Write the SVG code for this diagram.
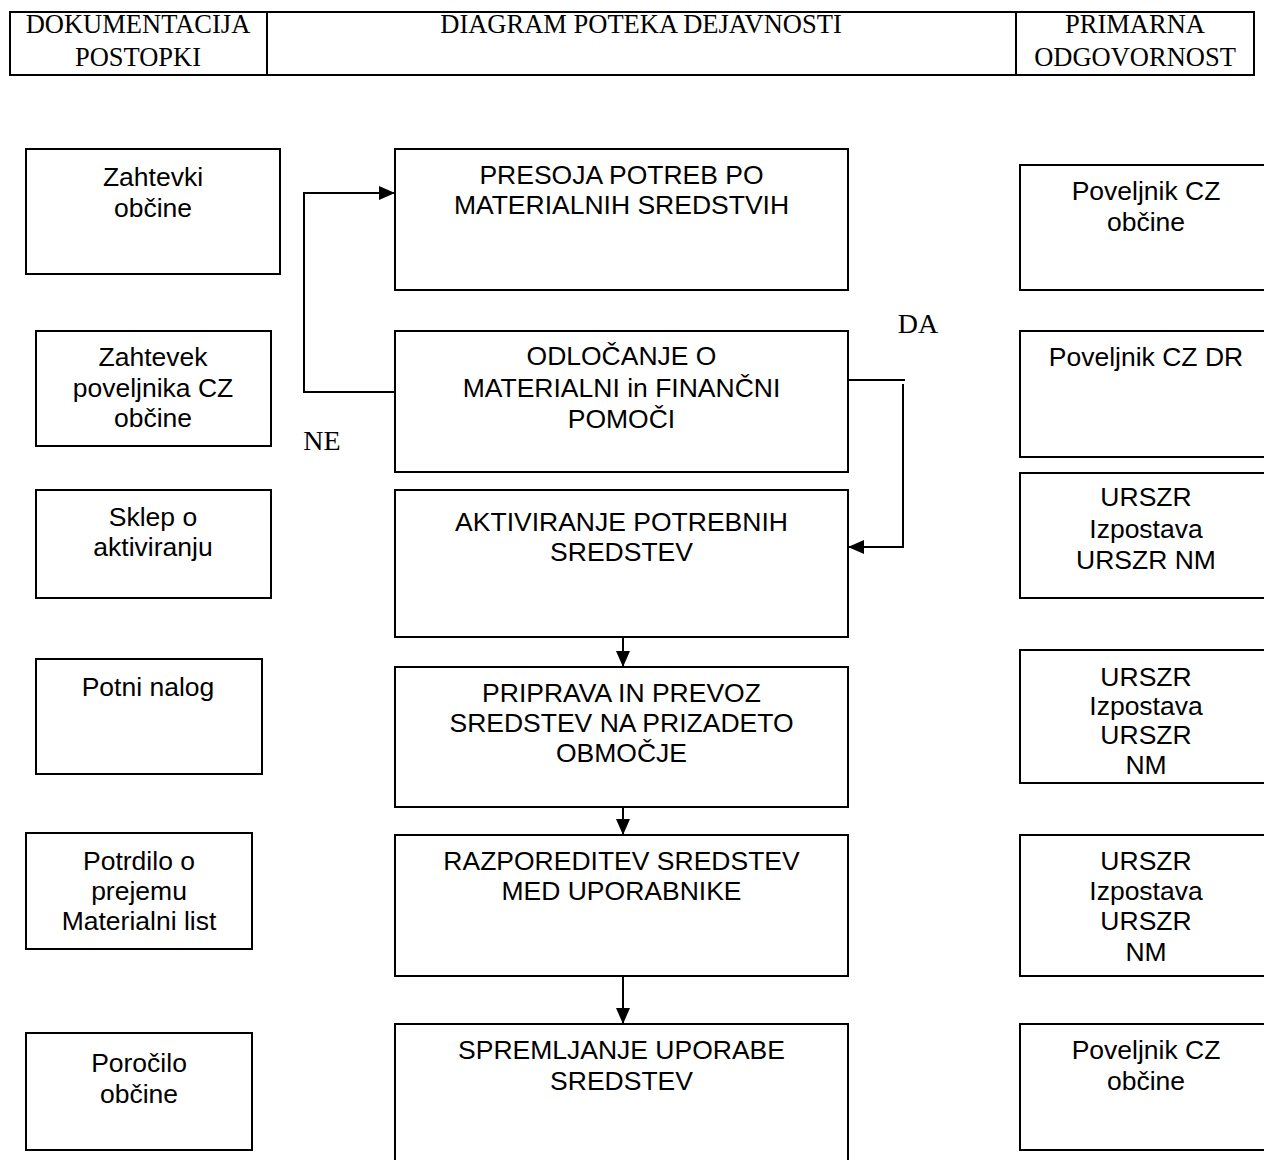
<svg xmlns="http://www.w3.org/2000/svg" width="1264" height="1160" viewBox="0 0 1264 1160">
<style>
.b{fill:#fff;stroke:#000;stroke-width:2}
.t{font-family:"Liberation Sans",Arial,sans-serif;font-size:26.5px;fill:#000;text-anchor:middle}
.h{font-family:"Liberation Serif","Times New Roman",serif;font-size:26.5px;fill:#000;text-anchor:middle}
.c{fill:none;stroke:#000;stroke-width:2}
</style>
<defs>
<marker id="ar" viewBox="0 0 16 14" refX="16" refY="7" markerWidth="16" markerHeight="14" markerUnits="userSpaceOnUse" orient="auto">
<path d="M0,0 L16,7 L0,14 Z" fill="#000"/>
</marker>
</defs>
<rect width="1264" height="1160" fill="#fff"/>
<g id="header">
<rect x="10" y="12" width="1244" height="63" class="b"/>
<line x1="267" y1="12" x2="267" y2="75" class="c"/>
<line x1="1016" y1="12" x2="1016" y2="75" class="c"/>
<text class="h" x="138" y="33">DOKUMENTACIJA</text>
<text class="h" x="138" y="66">POSTOPKI</text>
<text class="h" x="641" y="33">DIAGRAM POTEKA DEJAVNOSTI</text>
<text class="h" x="1135" y="33">PRIMARNA</text>
<text class="h" x="1135" y="66">ODGOVORNOST</text>
</g>
<g id="doc1"><rect x="26" y="149" width="254" height="125" class="b"/><text class="t" x="153" y="186">Zahtevki</text><text class="t" x="153" y="217">občine</text></g>
<g id="doc2"><rect x="36" y="331" width="235" height="115" class="b"/><text class="t" x="153" y="366">Zahtevek</text><text class="t" x="153" y="397">poveljnika CZ</text><text class="t" x="153" y="427">občine</text></g>
<g id="doc3"><rect x="36" y="490" width="235" height="108" class="b"/><text class="t" x="153" y="526">Sklep o</text><text class="t" x="153" y="556">aktiviranju</text></g>
<g id="doc4"><rect x="36" y="659" width="226" height="115" class="b"/><text class="t" x="148" y="696">Potni nalog</text></g>
<g id="doc5"><rect x="26" y="833" width="226" height="116" class="b"/><text class="t" x="139" y="870">Potrdilo o</text><text class="t" x="139" y="900">prejemu</text><text class="t" x="139" y="930">Materialni list</text></g>
<g id="doc6"><rect x="26" y="1033" width="226" height="117" class="b"/><text class="t" x="139" y="1072">Poročilo</text><text class="t" x="139" y="1103">občine</text></g>

<g id="step1"><rect x="395" y="149" width="453" height="141" class="b"/><text class="t" x="621.5" y="184">PRESOJA POTREB PO</text><text class="t" x="621.5" y="214">MATERIALNIH SREDSTVIH</text></g>
<g id="step2"><rect x="395" y="331" width="453" height="141" class="b"/><text class="t" x="621.5" y="365">ODLOČANJE O</text><text class="t" x="621.5" y="397">MATERIALNI in FINANČNI</text><text class="t" x="621.5" y="428">POMOČI</text></g>
<g id="step3"><rect x="395" y="490" width="453" height="147" class="b"/><text class="t" x="621.5" y="531">AKTIVIRANJE POTREBNIH</text><text class="t" x="621.5" y="561">SREDSTEV</text></g>
<g id="step4"><rect x="395" y="667" width="453" height="140" class="b"/><text class="t" x="621.5" y="702">PRIPRAVA IN PREVOZ</text><text class="t" x="621.5" y="732">SREDSTEV NA PRIZADETO</text><text class="t" x="621.5" y="762">OBMOČJE</text></g>
<g id="step5"><rect x="395" y="835" width="453" height="141" class="b"/><text class="t" x="621.5" y="870">RAZPOREDITEV SREDSTEV</text><text class="t" x="621.5" y="900">MED UPORABNIKE</text></g>
<g id="step6"><rect x="395" y="1024" width="453" height="150" class="b"/><text class="t" x="621.5" y="1059">SPREMLJANJE UPORABE</text><text class="t" x="621.5" y="1090">SREDSTEV</text></g>

<g id="resp1"><rect x="1020" y="165" width="260" height="125" class="b"/><text class="t" x="1146" y="200">Poveljnik CZ</text><text class="t" x="1146" y="231">občine</text></g>
<g id="resp2"><rect x="1020" y="331" width="260" height="126" class="b"/><text class="t" x="1146" y="366">Poveljnik CZ DR</text></g>
<g id="resp3"><rect x="1020" y="473" width="260" height="125" class="b"/><text class="t" x="1146" y="506">URSZR</text><text class="t" x="1146" y="538">Izpostava</text><text class="t" x="1146" y="569">URSZR NM</text></g>
<g id="resp4"><rect x="1020" y="650" width="260" height="133" class="b"/><text class="t" x="1146" y="686">URSZR</text><text class="t" x="1146" y="715">Izpostava</text><text class="t" x="1146" y="744">URSZR</text><text class="t" x="1146" y="774">NM</text></g>
<g id="resp5"><rect x="1020" y="835" width="260" height="141" class="b"/><text class="t" x="1146" y="870">URSZR</text><text class="t" x="1146" y="900">Izpostava</text><text class="t" x="1146" y="930">URSZR</text><text class="t" x="1146" y="961">NM</text></g>
<g id="resp6"><rect x="1020" y="1024" width="260" height="126" class="b"/><text class="t" x="1146" y="1059">Poveljnik CZ</text><text class="t" x="1146" y="1090">občine</text></g>

<g id="connectors">
<polyline points="395,392 304,392 304,193 395,193" class="c" marker-end="url(#ar)"/>
<polyline points="848,380 905,380" class="c"/>
<polyline points="903,384 903,547 848,547" class="c" marker-end="url(#ar)"/>
<line x1="623" y1="637" x2="623" y2="667" class="c" marker-end="url(#ar)"/>
<line x1="623" y1="807" x2="623" y2="835" class="c" marker-end="url(#ar)"/>
<line x1="623" y1="976" x2="623" y2="1024" class="c" marker-end="url(#ar)"/>
<text class="h" x="918" y="333" style="font-size:28px">DA</text>
<text class="h" x="322" y="450" style="font-size:28px">NE</text>
</g>
</svg>
